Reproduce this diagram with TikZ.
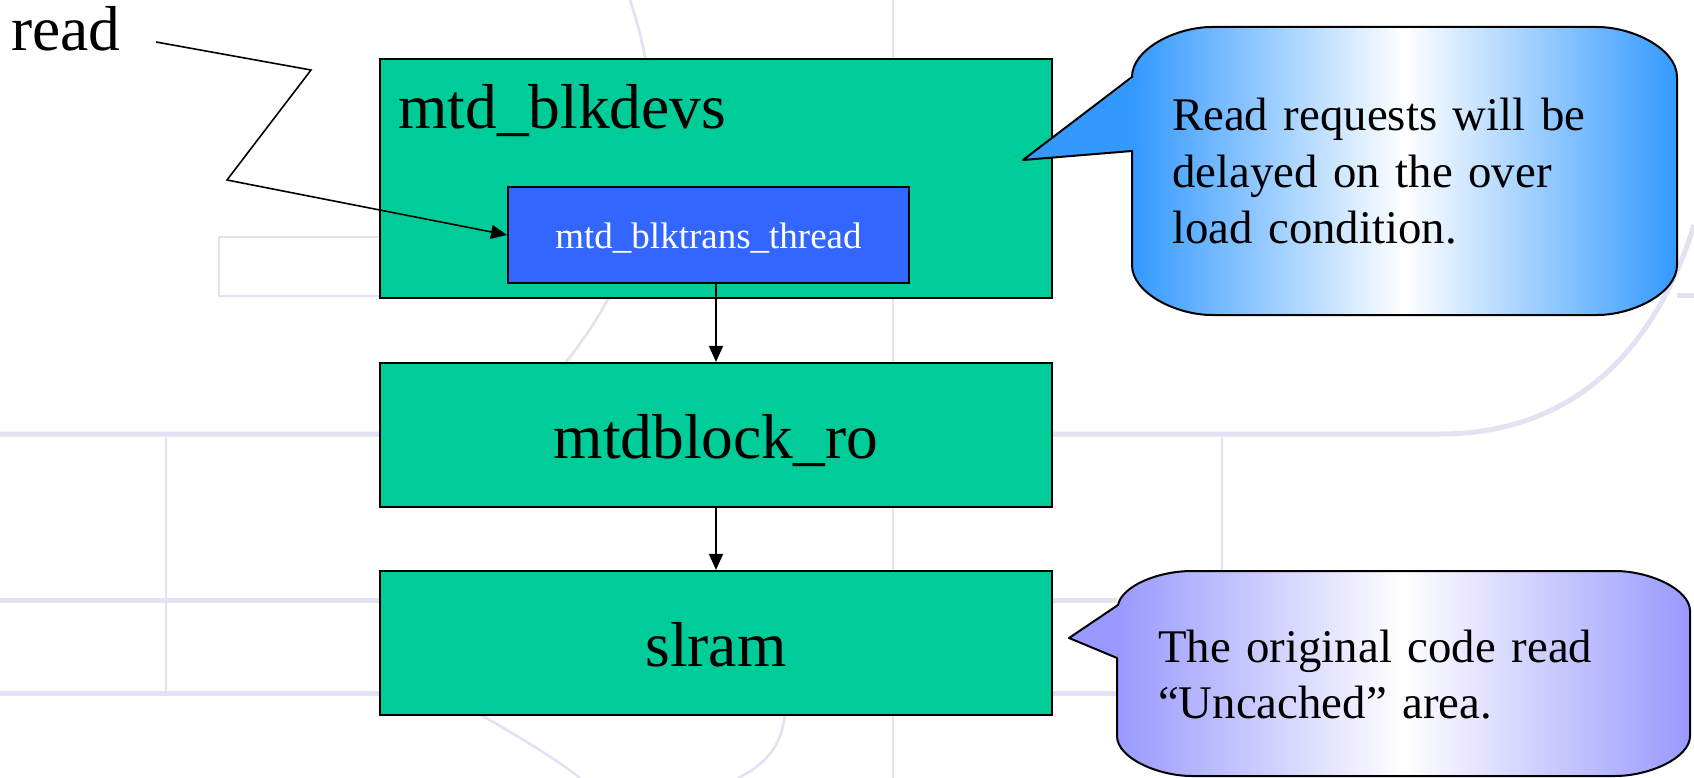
\documentclass[tikz,border=0pt]{standalone}
\usepackage{fontspec}
\setmainfont{Liberation Serif}
\usetikzlibrary{arrows.meta,calc}
\definecolor{boxgreen}{HTML}{00CC99}
\definecolor{threadblue}{HTML}{3366FF}
\definecolor{calloutblue}{HTML}{3399FF}
\definecolor{calloutviolet}{HTML}{9999FF}
\definecolor{bgline}{RGB}{226,226,242}
\tikzset{
  boxfont/.style={font=\fontsize{63.5}{76}\selectfont},
  notefont/.style={font=\fontsize{46.8}{56.5}\selectfont},
  greenbox/.style={rectangle, draw=black, line width=2.2pt, fill=boxgreen, minimum width=672pt, inner sep=0pt, boxfont, text height=46pt, text depth=0pt},
  threadbox/.style={rectangle, draw=black, line width=2pt, fill=threadblue, minimum width=401pt, minimum height=96pt, inner sep=0pt, text=white, font=\fontsize{37}{44}\selectfont, text height=26pt, text depth=0pt},
  conn/.style={draw=black, line width=1.6pt, -{Triangle[length=16pt,width=14pt]}},
  outline/.style={draw=black, line width=2pt, line join=round},
  bgband/.style={draw=bgline, line width=5pt},
  bgthin/.style={draw=bgline, line width=2.6pt},
  notetext/.style={notefont, anchor=base west, inner sep=0pt, text width=520pt, align=left}
}
\begin{document}
\begin{tikzpicture}[x=1pt,y=-1pt]
\useasboundingbox (0,0) rectangle (1694,778);
\fill[white] (0,0) rectangle (1694,778);
% ---- faint background pattern ----
\draw[bgthin] (219,237) rectangle (716,296);
\draw[bgband] (0,434) -- (1440,434) .. controls (1565,434) and (1652,360) .. (1694,225);
\draw[bgband] (1677,295) -- (1694,295);
\draw[bgband] (0,600) -- (1117,600);
\draw[bgband] (0,693) -- (1117,693);
\draw[bgthin] (166,434) -- (166,693);
\draw[bgthin] (893,0) -- (893,778);
\draw[bgthin] (1222,434) -- (1222,571);
\draw[bgthin] (630,0) .. controls (662,95) and (672,230) .. (566,362);
\draw[bgthin] (481,715) .. controls (525,740) and (560,762) .. (580,778);
\draw[bgthin] (785,712) .. controls (783,745) and (765,765) .. (738,778);
% ---- boxes ----
\node[greenbox, minimum height=239pt] (blkdevs) at (716,178.5) {};
\node[boxfont, anchor=base west, inner sep=0pt] (blkdevslabel) at (398,129) {mtd\_blkdevs};
\node[threadbox] (thread) at (708.5,235) {mtd\_blktrans\_thread};
\node[greenbox, minimum height=144pt] (ro) at (716,435) {mtdblock\_ro};
\node[greenbox, minimum height=144pt] (slram) at (716,643) {slram};
% ---- read input ----
\node[boxfont, anchor=base west, inner sep=0pt] (read) at (11,51) {read};
\coordinate (r0) at (156,42);
\coordinate (r1) at (311,70);
\coordinate (r2) at (227,180);
\draw[conn, line join=miter] (r0) -- (r1) -- (r2) -- (thread.west);
\draw[conn] (thread.south -| ro.north) -- (ro.north);
\draw[conn] (ro.south) -- (slram.north);
% ---- callout 1 ----
\fill[calloutblue] (1134,151) -- (1023,160) -- (1134,77) -- cycle;
\shade[left color=calloutblue, right color=calloutblue, middle color=white]
  (1212,27) -- (1597,27) .. controls (1633,27) and (1677,49) .. (1677,77)
  -- (1677,265) .. controls (1677,293) and (1633,315) .. (1597,315)
  -- (1212,315) .. controls (1176,315) and (1132,293) .. (1132,265)
  -- (1132,77) .. controls (1132,49) and (1176,27) .. (1212,27) -- cycle;
\draw[outline]
  (1212,27) -- (1597,27) .. controls (1633,27) and (1677,49) .. (1677,77)
  -- (1677,265) .. controls (1677,293) and (1633,315) .. (1597,315)
  -- (1212,315) .. controls (1176,315) and (1132,293) .. (1132,265)
  -- (1132,151) -- (1023,160) -- (1132,77)
  .. controls (1132,49) and (1176,27) .. (1212,27) -- cycle;
\node[notetext] (note1) at (1172,131) {Read requests will be\\delayed on the over\\load condition.};
% ---- callout 2 ----
\fill[calloutviolet] (1119,658) -- (1069,638) -- (1119,604) -- cycle;
\shade[left color=calloutviolet, right color=calloutviolet, middle color=white]
  (1192,571) -- (1615,571) .. controls (1649,571) and (1690,589) .. (1690,611)
  -- (1690,736) .. controls (1690,758) and (1649,776) .. (1615,776)
  -- (1192,776) .. controls (1158,776) and (1117,758) .. (1117,736)
  -- (1117,611) .. controls (1117,589) and (1158,571) .. (1192,571) -- cycle;
\draw[outline]
  (1192,571) -- (1615,571) .. controls (1649,571) and (1690,589) .. (1690,611)
  -- (1690,736) .. controls (1690,758) and (1649,776) .. (1615,776)
  -- (1192,776) .. controls (1158,776) and (1117,758) .. (1117,736)
  -- (1117,658) -- (1069,638) -- (1118,605)
  .. controls (1122,586) and (1158,571) .. (1192,571) -- cycle;
\node[notetext] (note2) at (1158,662) {The original code read\\“Uncached” area.};
\end{tikzpicture}
\end{document}
